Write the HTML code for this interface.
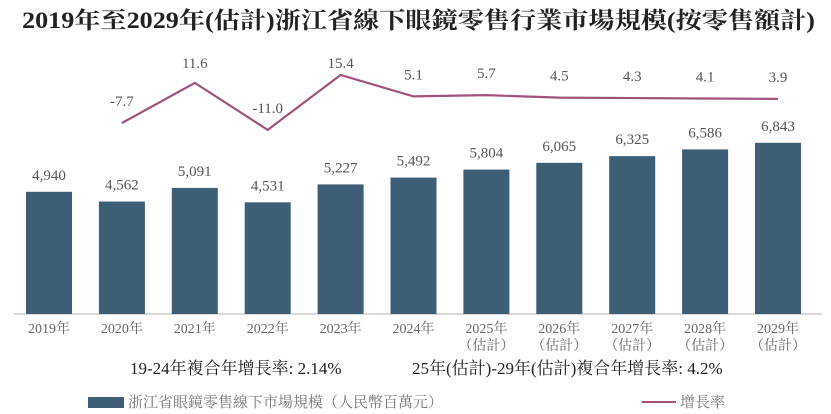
<!DOCTYPE html>
<html><head><meta charset="utf-8"><style>
body{margin:0;background:#fff;}
svg{display:block;font-family:"Liberation Serif","Noto Serif CJK SC",serif;}
</style></head><body>
<svg width="831" height="414" id="c">
<text x="22" y="28" font-size="23" font-weight="bold" fill="#222" textLength="793" lengthAdjust="spacingAndGlyphs">2019年至2029年(估計)浙江省線下眼鏡零售行業市場規模(按零售額計)</text>
<line x1="14" y1="314" x2="822" y2="314" stroke="#ccc" stroke-width="1.5"/>
<g id="bars"></g><g id="line"></g><g id="labels"></g>
<text x="130" y="374" font-size="17" fill="#222">19-24年複合年增長率: 2.14%</text>
<text x="412" y="374" font-size="17" fill="#222">25年(估計)-29年(估計)複合年增長率: 4.2%</text>
<rect x="88" y="397" width="36" height="11" fill="#3d5f76"/>
<text x="128" y="407" font-size="15" fill="#777">浙江省眼鏡零售線下市場規模（人民幣百萬元）</text>
<line x1="642" y1="402" x2="676" y2="402" stroke="#a0527a" stroke-width="2"/>
<text x="680" y="407" font-size="15" fill="#777">增長率</text>
</svg>
<script>
const years=["2019年","2020年","2021年","2022年","2023年","2024年","2025年","2026年","2027年","2028年","2029年"];
const estimated=[false,false,false,false,false,false,true,true,true,true,true];
const sizes=[4940,4562,5091,4531,5227,5492,5804,6065,6325,6586,6843];
const growth=[null,-7.7,11.6,-11.0,15.4,5.1,5.7,4.5,4.3,4.1,3.9];
const NS="http://www.w3.org/2000/svg";
const xC=i=>49+i*72.9;
const yB=v=>Math.min(314,319-v*0.02575);
const yL=v=>107-v*2.08;
function mk(tag,attrs,parent,txt){const e=document.createElementNS(NS,tag);for(const k in attrs)e.setAttribute(k,attrs[k]);if(txt!=null)e.textContent=txt;document.getElementById(parent).appendChild(e);return e;}
const fmt=v=>v.toLocaleString('en-US');
sizes.forEach((v,i)=>{
 const r=mk('rect',{x:xC(i)-23,y:yB(v),width:46,height:314-yB(v),fill:'#3d5f76'},'bars');
 
 
 const t=mk('text',{x:xC(i),y:yB(v)-12,'font-size':15,fill:'#555','text-anchor':'middle'},'labels',fmt(v));
 
 
 const xl=mk('text',{x:xC(i),y:333,'font-size':14,fill:'#666','text-anchor':'middle'},'labels',years[i]);
 
 
 if(estimated[i]){const e=mk('text',{x:xC(i),y:350,'font-size':14,fill:'#666','text-anchor':'middle'},'labels','（估計）');
 
 }
});
let pts=[];
growth.forEach((v,i)=>{if(v==null)return;pts.push(xC(i)+','+yL(v));
 const t=mk('text',{x:xC(i),y:Math.max(68,yL(v)-17),'font-size':15,fill:'#555','text-anchor':'middle'},'labels',v.toFixed(1));
 
 
});
const pl=mk('polyline',{points:pts.join(' '),fill:'none',stroke:'#a0527a','stroke-width':2.2},'line');


</script>
</body></html>
